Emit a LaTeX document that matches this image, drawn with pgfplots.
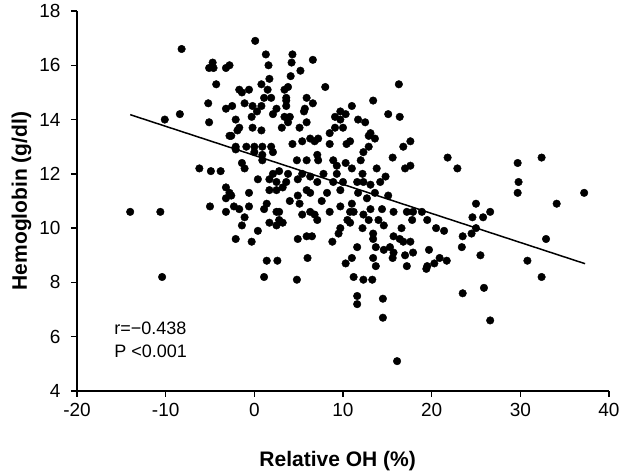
\documentclass[border=0pt]{standalone}
\usepackage{pgfplots}
\pgfplotsset{compat=1.18}
\usepackage{fontspec}
\setmainfont{Liberation Sans}
\begin{document}
\begin{tikzpicture}[x=1pt,y=1pt]
\useasboundingbox (-77,-82) rectangle (545,391);
\begin{axis}[
  at={(0,0)}, anchor=south west,
  scale only axis, width=532pt, height=380pt,
  xmin=-20, xmax=40, ymin=4, ymax=18,
  axis x line*=bottom, axis y line*=left,
  axis line style={line width=2pt, -},
  xtick={-20,-10,0,10,20,30,40},
  ytick={4,6,8,10,12,14,16,18},
  tick align=outside, major tick length=6pt,
  tick style={line width=1.3pt, black},
  /pgf/number format/assume math mode=true,
  ticklabel style={font=\fontsize{19}{22}\selectfont},
  xticklabel style={yshift=-3pt},
  yticklabel style={xshift=-7pt},
  xlabel={\bfseries Relative OH (\%)},
  ylabel={\bfseries Hemoglobin (g/dl)},
  label style={font=\fontsize{21}{24}\selectfont},
  xlabel style={at={(axis description cs:0.49,-0.184)}, anchor=center},
  ylabel style={at={(axis description cs:-0.1045,0.5)}, anchor=center},
  clip=false,
]
\addplot[only marks, mark=*, mark size=3.8pt, black] table {
x y
-14.0 10.6
-10.6 10.6
-10.1 14.0
-8.4 14.2
-8.2 16.6
-10.4 8.2
-4.7 16.1
-5.1 15.9
-4.6 15.9
-3.2 15.9
-4.3 15.3
-5.2 14.6
-3.2 14.4
-5.1 13.9
-2.8 13.4
-6.2 12.2
-4.9 12.1
-3.8 12.1
-3.2 11.5
-3.2 11.1
-5.0 10.8
-3.2 10.6
29.7 12.4
32.4 12.6
29.8 11.7
29.7 11.3
37.2 11.3
34.1 10.9
25.0 10.9
26.6 10.6
24.6 10.4
25.8 10.4
25.0 10.0
24.5 9.8
32.9 9.6
25.5 9.0
30.8 8.8
25.9 7.8
32.4 8.2
26.6 6.6
11.2 8.2
12.3 8.1
13.3 8.1
11.6 7.5
11.6 7.2
14.5 7.4
14.5 6.7
16.1 5.1
23.5 7.6
19.4 8.5
1.1 8.2
4.8 8.1
16.3 15.3
13.4 14.7
11.0 14.5
15.1 14.2
16.4 14.1
11.7 14.0
12.5 13.9
13.1 13.5
12.9 13.4
13.6 13.3
17.6 13.2
16.8 13.0
12.9 13.0
10.8 13.2
21.8 12.6
22.9 12.2
15.6 12.6
17.0 12.2
17.6 12.3
12.3 12.8
12.0 12.5
13.8 12.2
14.8 11.9
14.2 11.7
11.0 12.2
12.2 12.0
11.6 11.7
12.3 11.7
13.1 11.6
11.7 11.3
12.7 11.1
13.6 11.3
15.1 11.2
11.0 10.9
11.2 10.6
13.1 10.7
14.4 10.7
15.7 10.6
17.2 10.6
17.9 10.6
18.9 10.6
12.3 10.5
12.9 10.3
14.0 10.3
14.6 10.1
17.8 10.3
19.5 10.3
12.2 10.0
16.6 10.0
20.5 10.0
21.4 9.9
13.4 9.8
13.4 9.6
15.7 9.7
16.4 9.6
16.8 9.5
17.6 9.5
23.5 9.7
23.4 9.3
11.6 9.3
13.7 9.3
14.6 9.2
15.3 9.3
15.7 9.1
13.4 8.9
15.6 8.9
17.0 9.0
17.9 9.1
19.7 9.2
20.9 8.9
21.7 8.8
19.5 8.6
20.3 8.7
11.0 8.9
13.7 8.6
17.2 8.6
10.8 10.2
10.8 10.6
0.1 16.9
1.3 16.4
4.3 16.4
4.2 16.1
6.6 16.2
1.6 16.0
5.2 15.8
4.1 15.6
1.7 15.5
0.8 15.3
-2.8 16.0
3.8 15.2
3.4 15.1
8.0 15.2
1.5 15.1
-1.7 15.1
-1.4 15.0
-0.6 15.1
1.1 14.8
1.9 14.8
3.6 14.8
3.6 14.7
5.9 14.8
6.6 14.6
-2.5 14.5
-1.1 14.6
-0.2 14.5
0.8 14.5
2.5 14.4
3.6 14.5
5.7 14.4
5.6 14.3
9.7 14.3
10.3 14.2
-2.1 14.0
-0.3 14.1
0.3 14.3
2.1 14.2
3.4 14.1
4.0 14.1
3.8 13.9
9.1 14.1
9.7 14.0
-0.2 13.7
0.8 13.6
-1.7 13.7
-2.6 13.4
-1.9 13.6
3.1 13.7
5.1 13.7
5.9 13.9
8.5 13.5
9.1 13.7
10.0 13.7
-2.1 13.0
-0.9 13.0
0.0 13.0
0.9 13.0
1.9 13.0
4.3 13.1
5.4 13.2
6.3 13.3
6.8 13.2
7.2 13.3
8.5 13.1
10.4 13.1
-2.1 12.9
0.0 12.8
0.9 12.7
2.1 12.8
-1.4 12.4
-1.1 12.2
0.9 12.5
4.8 12.5
5.9 12.5
7.1 12.7
7.2 12.5
8.9 12.5
9.3 12.3
10.3 12.4
2.1 12.0
2.8 12.1
3.8 12.0
5.4 12.0
6.3 11.9
7.8 12.0
9.3 12.0
0.4 11.8
1.7 11.8
2.5 11.7
3.6 11.7
4.9 11.8
7.1 11.7
8.9 11.7
10.0 11.7
-2.8 11.3
-2.6 11.2
-0.6 11.3
1.7 11.4
2.5 11.4
3.2 11.5
5.9 11.4
6.3 11.3
8.2 11.3
9.7 11.4
4.0 11.0
4.9 11.2
5.1 10.9
7.6 11.0
1.4 10.9
-2.3 10.8
-1.7 10.7
-0.6 10.8
1.1 10.7
2.5 10.6
2.8 10.6
5.4 10.5
6.3 10.6
6.8 10.5
7.1 10.3
8.5 10.6
9.7 10.8
-1.1 10.4
-1.4 10.1
1.7 10.2
2.5 10.1
3.2 10.2
2.8 10.3
9.7 10.0
10.5 10.3
0.4 9.9
9.5 9.8
-2.1 9.6
-0.3 9.5
4.9 9.6
5.9 9.7
6.5 9.7
8.8 9.5
1.4 8.8
2.6 8.8
6.0 8.9
10.3 8.7
};
\addplot[black, line width=1.5pt, no marks] coordinates {(-14.0,14.18) (37.3,8.69)};
\node[anchor=base west, font=\fontsize{18}{21}\selectfont, inner sep=0pt] at (axis cs:-15.8,6.07) {r=−0.438};
\node[anchor=base west, font=\fontsize{18}{21}\selectfont, inner sep=0pt] at (axis cs:-15.8,5.25) {P <0.001};
\end{axis}
\end{tikzpicture}
\end{document}
